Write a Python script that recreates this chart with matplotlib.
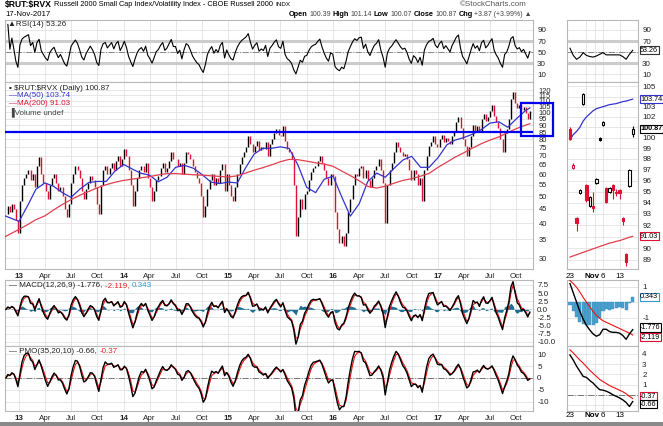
import numpy as np
import pandas as pd
import matplotlib
matplotlib.use("Agg")
import matplotlib.pyplot as plt
from matplotlib.patches import Rectangle

plt.rcParams['font.family'] = ['Liberation Sans', 'DejaVu Sans']
plt.rcParams['text.parse_math'] = False

W, H = 663, 426

# weekly closes of $RUT:$RVX, one list per year
close_2012 = [43, 46, 44, 47, 45, 41, 37]
close_2013 = [48, 55, 58, 60, 62, 57, 60, 54, 64, 69, 60, 56, 52, 49, 55, 58,
              60, 56, 52, 54, 50, 45, 42, 47, 56, 60, 64, 62, 58, 52, 49, 53,
              56, 59, 57, 54, 47, 43, 55, 62, 64, 60, 63, 66, 62, 67, 70, 64, 68]
close_2014 = [74, 70, 62, 55, 46, 52, 58, 62, 64, 61, 66, 58, 54, 48, 52, 57,
              59, 63, 66, 61, 63, 67, 72, 68, 68, 64, 66, 60, 66, 72, 71, 68,
              64, 61, 58, 56, 50, 42, 46, 53, 57, 60, 55, 58, 56, 62, 65, 52, 60]
close_2015 = [55, 50, 48, 54, 60, 65, 69, 72, 75, 82, 77, 72, 76, 79, 73, 75,
              74, 78, 70, 77, 80, 84, 87, 83, 82, 89, 79, 74, 72, 68, 55, 36,
              42, 49, 45, 51, 52, 57, 61, 63, 64, 67, 70, 66, 62, 58, 55, 60, 59]
close_2016 = [44, 38, 34, 36, 33, 37, 44, 49, 55, 60, 59, 63, 64, 58, 62, 57,
              54, 58, 62, 64, 68, 62, 56, 40, 55, 62, 66, 72, 78, 75, 72, 70,
              71, 68, 62, 57, 62, 60, 55, 58, 48, 62, 70, 76, 78, 82, 77, 75]
close_2017 = [80, 83, 78, 81, 79, 77, 82, 86, 92, 96, 88, 80, 76, 70, 75, 82,
              90, 86, 89, 85, 95, 99, 93, 96, 101, 106, 97, 92, 88, 80, 72, 84, 87,
              95, 112, 118, 108, 104, 106, 101.6, 104.3, 99.8, 95.0, 100.87]
year_spans = [("2012-11-16", "2012-12-28"), ("2013-01-04", "2013-12-27"),
              ("2014-01-03", "2014-12-26"), ("2015-01-02", "2015-12-31"),
              ("2016-01-08", "2016-12-30"), ("2017-01-06", "2017-11-17")]

# moving averages read at month starts (last point = 17 Nov 2017)
ma50 = [43.0, 41.8, 40.6, 46.5, 53, 55.8, 54.3, 51.5, 49.5, 53, 56, 56.5, 56.5, 61.5,
        65, 62.5, 60.5, 59.5, 56.3, 58.5, 63.5, 64.5, 63, 59.8, 56.2, 55.5,
        56.2, 55.8, 63, 70.9, 74.3, 74.3, 75.2, 74.2, 64.5, 53.8, 51.5, 57.5,
        59, 49.5, 42.4, 47, 56.5, 60.5, 58.5, 63, 67.5, 69.5, 63.5, 63.5,
        68.8, 76.5, 79.5, 81.2, 83.5, 86.7, 91.5, 92.5, 88.4, 94.8, 101.3, 103.74]
ma200 = [35.2, 36.6, 38, 39.6, 41.2, 42.5, 44.6, 46.7, 48.6, 50.4, 52, 53.6, 55, 56.1,
         57, 57.6, 58.2, 58.8, 59.6, 60.3, 60.3, 60, 59.7, 59.5, 59.2, 58.9,
         58.6, 59.2, 60.5, 62, 63.3, 64.8, 66.5, 67.8, 67.6, 66.8, 65.9, 65.2,
         64, 61.5, 59.3, 56.8, 54.2, 53.5, 54.3, 55.7, 57, 57.8, 59, 60.4,
         63.5, 66.3, 69, 71.6, 74.4, 77.2, 79.5, 81.6, 84.6, 87.4, 89.9, 91.03]

# zoomed daily panel, 23 Oct - 17 Nov 2017
days_r = ["23", "24", "25", "26", "27", "30", "31", "1", "2", "3", "6", "7", "8",
          "9", "10", "13", "14", "15", "16", "17"]
open_r = [100.8, 97.2, 92.6, 94.9, 103.3, 95.6, 93.7, 93.7, 95.8, 100.0, 101.2,
          95.3, 95.0, 95.6, 94.9, 95.1, 92.6, 89.5, 95.5, 100.39]
high_r = [101.0, 97.6, 92.7, 95.2, 104.4, 95.7, 94.6, 95.0, 96.2, 100.1, 101.6,
          95.4, 95.4, 95.7, 95.2, 95.2, 92.7, 89.6, 97.1, 101.14]
low_r = [99.8, 97.1, 91.5, 94.8, 103.2, 94.1, 93.6, 93.2, 95.7, 99.7, 101.1,
         94.0, 94.9, 94.3, 94.6, 94.3, 92.0, 88.5, 95.4, 100.07]
close_r = [99.9, 97.4, 92.2, 95.1, 104.3, 94.2, 94.5, 93.5, 96.1, 99.8, 101.5,
           94.1, 95.3, 95.1, 95.0, 94.9, 92.4, 88.8, 97.0, 100.87]
ma50_r = [99.8, 100.3, 100.6, 101.0, 101.6, 102.0, 102.3, 102.6, 102.8, 102.9,
          103.0, 103.1, 103.2, 103.25, 103.3, 103.4, 103.5, 103.55, 103.65, 103.74]
ma200_r = [89.25, 89.35, 89.45, 89.55, 89.65, 89.75, 89.85, 89.95, 90.05, 90.15,
           90.25, 90.35, 90.45, 90.5, 90.6, 90.65, 90.75, 90.85, 90.95, 91.03]
rsi_r = [57, 44, 37, 41, 49, 44, 42, 41, 43, 46, 49, 45, 45, 45, 45, 45, 42, 37, 46, 53.26]
macd_r = [1.2, 0.6, 0.0, -0.6, -1.1, -1.5, -1.8, -2.05, -2.2, -2.1, -1.75, -1.75,
          -1.9, -1.95, -1.95, -2.0, -2.15, -2.4, -2.05, -1.776]
macd_sig_r = [1.4, 1.2, 0.96, 0.65, 0.3, 0.0, -0.3, -0.6, -0.85, -1.05, -1.2, -1.3,
              -1.4, -1.5, -1.6, -1.7, -1.8, -1.9, -2.0, -2.119]
pmo_r = [3.9, 3.4, 2.8, 2.3, 1.8, 1.7, 1.4, 1.15, 0.8, 0.5, 0.45, 0.35, 0.2, 0.0,
         -0.15, -0.3, -0.5, -0.75, -1.15, -0.66]
pmo_sig_r = [4.4, 4.1, 3.75, 3.4, 3.1, 2.75, 2.4, 2.1, 1.8, 1.5, 1.3, 1.1, 0.9, 0.75,
             0.6, 0.45, 0.3, 0.1, -0.15, -0.37]
prev_close_r0 = 101.6

RED = '#dd1133'
BLUE = '#3333cc'
GRID = '#e2e2e2'
FS = 5.8


def spread(start, end, n):
    return pd.to_datetime(np.linspace(pd.Timestamp(start).value, pd.Timestamp(end).value, n))


yearly = [close_2012, close_2013, close_2014, close_2015, close_2016, close_2017]
dates = pd.DatetimeIndex(np.concatenate([spread(a, b, len(v)).values
                                         for v, (a, b) in zip(yearly, year_spans)]))
close = pd.Series(np.concatenate(yearly).astype(float), index=dates)
prev = close.shift(1).fillna(close.iloc[0])

ma_dates = list(pd.date_range("2012-11-01", "2017-11-01", freq="MS")) + [pd.Timestamp("2017-11-17")]


def ema(s, a):
    return s.ewm(alpha=a, adjust=False).mean()


# daily indicator settings converted to weekly steps
macd = ema(close, 1 - (11 / 13) ** 5) - ema(close, 1 - (25 / 27) ** 5)
macd_sig = ema(macd, 1 - 0.8 ** 5)
hist = macd - macd_sig
roc = close.pct_change().fillna(0) * 100 / 5
pmo = ema(10 * ema(roc, 1 - (1 - 2 / 35) ** 5), 1 - (1 - 2 / 20) ** 5)
pmo_sig = ema(pmo, 1 - (9 / 11) ** 5)
delta = close.diff().fillna(0)
a_rsi = 0.18
rsi = 100 - 100 / (1 + ema(delta.clip(lower=0), a_rsi) / ema((-delta).clip(lower=0), a_rsi))

fig = plt.figure(figsize=(W / 100, H / 100), dpi=100)


def pax(x0, y0, x1, y1):
    ax = fig.add_axes([x0 / W, 1 - y1 / H, (x1 - x0) / W, (y1 - y0) / H])
    for s in ax.spines.values():
        s.set_color('#b8b8b8')
        s.set_linewidth(0.8)
    ax.yaxis.tick_right()
    ax.tick_params(axis='both', length=0, labelsize=FS, pad=3, colors='#222222')
    ax.grid(True, color=GRID, lw=0.6)
    ax.set_axisbelow(True)
    return ax


LX0, LX1, RX0, RX1 = 5, 533, 567, 638
rows = [(20, 82), (82, 269), (280, 346), (346, 411)]
left = [pax(LX0, a, LX1, b) for a, b in rows]
right = [pax(RX0, a, RX1, b) for a, b in rows]

# ---- left x axis
quarters = pd.date_range("2013-01-01", "2017-10-01", freq="QS")
qlabels = [f"{d.year % 100}" if d.month == 1 else d.strftime("%b") for d in quarters]
for i, ax in enumerate(left):
    ax.set_xlim(pd.Timestamp("2012-11-13"), pd.Timestamp("2017-11-28"))
    ax.set_xticks(quarters)
    if i in (1, 3):
        ax.set_xticklabels(qlabels)
        for lab, d in zip(ax.get_xticklabels(), quarters):
            if d.month == 1:
                lab.set_fontweight('bold')
    else:
        ax.set_xticklabels([])

idx = np.arange(len(close_r))
rticks = [0, 6.6, 10, 15]
for i, ax in enumerate(right):
    ax.set_xlim(-0.9, 20.6)
    ax.set_xticks([5, 7.5, 10, 15])
    ax.set_xticklabels([])
    if i in (1, 3):
        for t, lab in zip(rticks, [days_r[0], "Nov", days_r[10], days_r[15]]):
            ax.text(t, -0.02, lab, transform=ax.get_xaxis_transform(), ha='center', va='top',
                    fontsize=FS, fontweight='bold' if lab == "Nov" else 'normal')


def ylabels(ax, ticks, hide=(), fmt=str, fs=FS):
    ax.set_yticks(ticks)
    ax.set_yticklabels(["" if v in hide else fmt(v) for v in ticks], fontsize=fs)


# ---- RSI
for ax, x, y in [(left[0], dates, rsi), (right[0], idx, rsi_r)]:
    ax.set_ylim(-4, 108)
    ylabels(ax, [10, 30, 50, 70, 90], hide=(50,) if ax is right[0] else ())
    for lv in (30, 70):
        ax.axhline(lv, color='#cccccc', lw=2.2, zorder=1)
    ax.axhline(50, color='#888888', lw=0.7, ls='-.', zorder=1)
    ax.plot(x, y, color='black', lw=0.8, zorder=3)
left[0].text(0.006, 0.98, "\u25b2RSI(14) 53.26", transform=left[0].transAxes, fontsize=FS,
             va='top', ha='left', color='#222222')

# ---- main price panel (log)
ax = left[1]
ax.set_yscale('log')
ax.set_ylim(27.4, 128.5)
ylabels(ax, list(range(30, 125, 5)), fs=5.4)
ax.tick_params(axis='y', pad=4)
ax.minorticks_off()
up = close >= prev
col = np.where(up, 'black', RED)
ax.vlines(dates, np.minimum(prev, close), np.maximum(prev, close), colors=col, lw=1.0, zorder=3)
ax.plot(ma_dates, ma50, color=BLUE, lw=0.9, zorder=4)
ax.plot(ma_dates, ma200, color='#e0404f', lw=0.9, zorder=4)
ax.axhline(85, color='#0000ee', lw=1.6, zorder=5)
fig.add_artist(Rectangle((521 / W, 1 - 136 / H), 32 / W, 33 / H, transform=fig.transFigure,
                         fill=False, ec='#0000ee', lw=1.6, zorder=6))
ax.text(0.008, 0.985, "\u25aa $RUT:$RVX (Daily) 100.87", transform=ax.transAxes, fontsize=FS,
        va='top', color='#222222')
ax.text(0.008, 0.945, "\u2014MA(50) 103.74", transform=ax.transAxes, fontsize=FS, va='top', color=BLUE)
ax.text(0.008, 0.905, "\u2014MA(200) 91.03", transform=ax.transAxes, fontsize=FS, va='top', color=RED)
ax.text(0.008, 0.865, "\u2590Volume undef", transform=ax.transAxes, fontsize=FS, va='top', color='#444444')

ax = right[1]
ax.set_yscale('log')
ax.set_ylim(88.24, 105.45)
ylabels(ax, list(range(89, 106)), hide=(91, 101, 104))
ax.minorticks_off()
prevs = [prev_close_r0] + close_r[:-1]
for i in idx:
    c = 'black' if close_r[i] >= prevs[i] else RED
    hollow = close_r[i] > open_r[i]
    ax.vlines(i, low_r[i], high_r[i], color=c, lw=0.8, zorder=3)
    lo, hi = min(open_r[i], close_r[i]), max(open_r[i], close_r[i])
    ax.bar(i, hi - lo, bottom=lo, width=0.72, color='white' if hollow else c, edgecolor=c,
           lw=0.8, zorder=4)
ax.plot(idx, ma50_r, color=BLUE, lw=0.9, zorder=2)
ax.plot(idx, ma200_r, color='#e0404f', lw=0.9, zorder=2)

# ---- MACD
ax = left[2]
ax.set_ylim(-11.25, 9.0)
ylabels(ax, [7.5, 5.0, 2.5, 0.0, -2.5, -5.0, -7.5, -10.0], fmt=lambda v: f"{v:.1f}")
ax.fill_between(dates, hist, 0, color='#1f6f94', lw=0, zorder=2)
ax.plot(dates, macd_sig, color='#ee1111', lw=0.8, zorder=3)
ax.plot(dates, macd, color='black', lw=1.0, zorder=4)
t = ax.text(0.008, 0.97, "\u2014 MACD(12,26,9) -1.776, ", transform=ax.transAxes, fontsize=FS,
            va='top', color='#222222')
t2 = ax.annotate("-2.119, ", xycoords=t, xy=(1, 0), va='bottom', fontsize=FS, color='#ee2222')
ax.annotate("0.343", xy=(1, 0), xycoords=t2, va='bottom', fontsize=FS, color='#3399cc')

ax = right[2]
ax.set_ylim(-2.83, 1.43)
ylabels(ax, [1, 0, -1, -2], hide=(0, -2))
hist_r = np.array(macd_r) - np.array(macd_sig_r)
ax.bar(idx, hist_r, width=0.95, color='#4b9fcc', edgecolor='#3a8fbd', lw=0.3, zorder=2)
ax.plot(idx, macd_sig_r, color='#ee1111', lw=0.8, zorder=3)
ax.plot(idx, macd_r, color='black', lw=1.0, zorder=4)

# ---- PMO
ax = left[3]
ax.set_ylim(-14, 13.5)
ylabels(ax, [10, 5, 0, -5, -10])
ax.axhline(0, color='#777777', lw=0.7, ls='-.', zorder=1)
ax.plot(dates, pmo_sig, color='#ee1111', lw=0.8, zorder=3)
ax.plot(dates, pmo, color='black', lw=1.0, zorder=4)
t = ax.text(0.008, 0.97, "\u2014 PMO(35,20,10) -0.66, ", transform=ax.transAxes, fontsize=FS,
            va='top', color='#222222')
ax.annotate("-0.37", xycoords=t, xy=(1, 0), va='bottom', fontsize=FS, color='#ee2222')

ax = right[3]
ax.set_ylim(-1.59, 4.78)
ylabels(ax, [4, 3, 2, 1, 0, -1], hide=(0, -1))
ax.axhline(0, color='#777777', lw=0.7, ls='-.', zorder=1)
ax.plot(idx, pmo_sig_r, color='#ee1111', lw=0.8, zorder=3)
ax.plot(idx, pmo_r, color='black', lw=1.0, zorder=4)


# ---- value tags on the zoom panels
def tag(ax, y, text, ec, bold=False, dy=0):
    ax.annotate(text, xy=(1, y), xycoords=('axes fraction', 'data'), xytext=(1.5, dy),
                textcoords='offset points', va='center', ha='left', fontsize=5.2,
                fontweight='bold' if bold else 'normal', annotation_clip=False,
                bbox=dict(boxstyle='square,pad=0.08', fc='white', ec=ec, lw=0.8))


tag(right[0], 53.26, "53.26", '#333333')
tag(right[1], 103.74, "103.74", BLUE)
tag(right[1], 100.87, "100.87", 'black', bold=True)
tag(right[1], 91.03, "91.03", RED)
tag(right[2], 0.343, "0.343", '#3399cc')
tag(right[2], -1.776, "-1.776", 'black', dy=1.6)
tag(right[2], -2.119, "-2.119", RED, dy=-1.6)
tag(right[3], -0.37, "-0.37", RED, dy=1.8)
tag(right[3], -0.66, "-0.66", 'black', dy=-1.8)

# ---- header
rend = fig.canvas.get_renderer()


def chain(parts, x, y, gap=2.0, right_edge=None):
    texts = []
    for txt, kw in parts:
        tt = fig.text(x / W, 1 - y / H, txt, va='center', ha='left', **kw)
        texts.append(tt)
        x += tt.get_window_extent(rend).width + gap
    if right_edge is not None:
        shift = right_edge - (x - gap)
        for tt in texts:
            px, py = tt.get_position()
            tt.set_position((px + shift / W, py))


chain([("$RUT:$RVX", dict(fontsize=6.2, fontweight='bold')),
       ("Russell 2000 Small Cap Index/Volatility Index - CBOE Russell 2000", dict(fontsize=5.3)),
       ("INDX", dict(fontsize=4.6))], 5, 5)
fig.text(5 / W, 1 - 15 / H, "17-Nov-2017", fontsize=5.6, va='center', ha='left')
chain([("Open", dict(fontsize=5.3, fontweight='bold')), ("100.39", dict(fontsize=5.0, color='#444444')),
       ("High", dict(fontsize=5.3, fontweight='bold')), ("101.14", dict(fontsize=5.0, color='#444444')),
       ("Low", dict(fontsize=5.3, fontweight='bold')), ("100.07", dict(fontsize=5.0, color='#444444')),
       ("Close", dict(fontsize=5.3, fontweight='bold')), ("100.87", dict(fontsize=5.0, color='#444444')),
       ("Chg", dict(fontsize=5.3, fontweight='bold')),
       ("+3.87 (+3.99%) \u25b2", dict(fontsize=5.0, color='#444444'))], 0, 15, gap=1.8,
      right_edge=532)
fig.text(527 / W, 1 - 5 / H, "\u00a9StockCharts.com", fontsize=5.8, ha='right', va='center', color='#555555')
fig.add_artist(Rectangle((0, 0), 1, 4 / H, transform=fig.transFigure, color='#8a8a8a', lw=0))

fig.savefig("out.png", dpi=100)
